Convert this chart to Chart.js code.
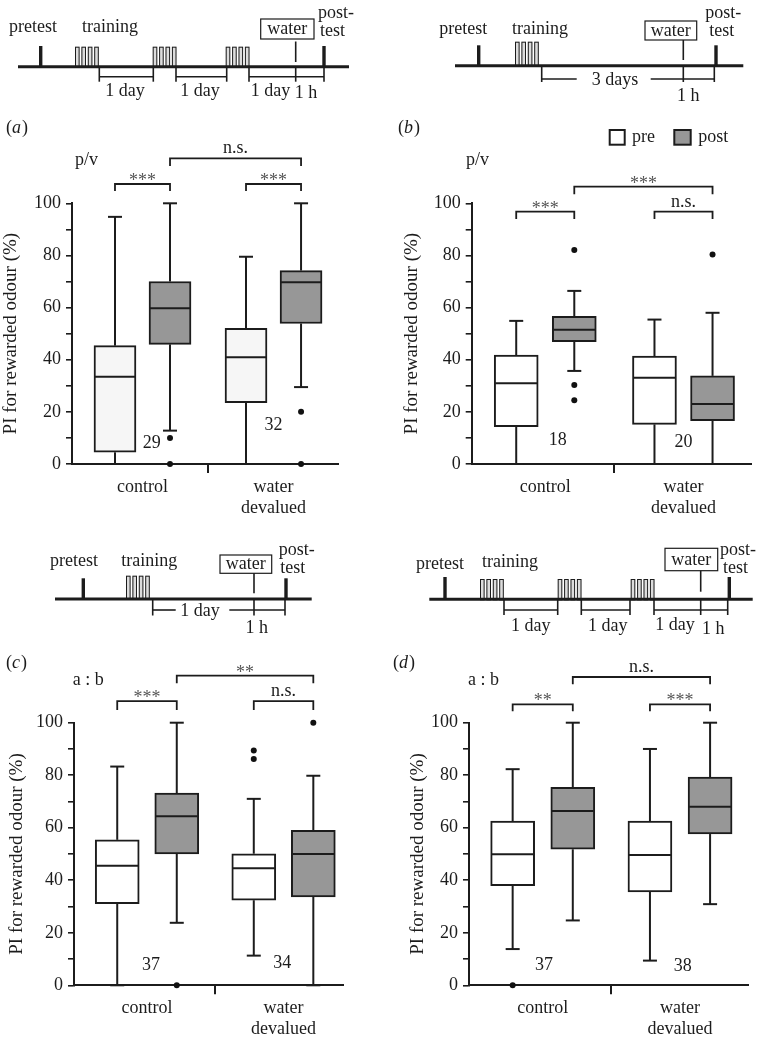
<!DOCTYPE html>
<html>
<head>
<meta charset="utf-8">
<script src="https://cdn.jsdelivr.net/npm/chart.js@4.4.1/dist/chart.umd.min.js"></script>
<style>
  body { margin: 0; background: #fff; }
  #wrap { position: relative; width: 761px; height: 1039px; }
  canvas { position: absolute; }
</style>
</head>
<body>
<div id="wrap">
  <canvas id="bg" width="761" height="1039" style="left:0;top:0"></canvas>
  <canvas id="chartA" width="380" height="420" style="left:0;top:110px"></canvas>
  <canvas id="chartB" width="381" height="420" style="left:380px;top:110px"></canvas>
  <canvas id="chartC" width="380" height="409" style="left:0;top:630px"></canvas>
  <canvas id="chartD" width="381" height="409" style="left:380px;top:630px"></canvas>
</div>
<script>
// ---- data ----
// box stats per group: [low whisker, q1, median, q3, high whisker]
const groupLabels = ['control', ['water', 'devalued']];
const yTickLabels = [0, 20, 40, 60, 80, 100];

const aPre = [[0, 4.5, 33.5, 45.4, 94.8], [0, 23.5, 40.9, 52.0, 79.5]];
const aPost = [[12.8, 45.9, 59.7, 70.0, 100], [29.5, 53.9, 69.7, 74.2, 100]];
const aPreOut = [[], []];
const aPostOut = [[10, 0], [20, 0]];
const aN = [29, 32];
const aSig = ['***', '***', 'n.s.'];

const bPre = [[0, 14.3, 31.0, 41.8, 54.9], [0, 15.2, 33.1, 41.4, 55.4]];
const bPost = [[35.7, 46.9, 51.5, 56.6, 66.4], [0, 16.6, 23.0, 33.8, 58.0]];
const bPreOut = [[], []];
const bPostOut = [[82.1, 30.3, 24.5], [80.4]];
const bN = [18, 20];
const bSig = ['***', 'n.s.', '***'];

const cPre = [[0, 31.1, 45.5, 55.4, 83.3], [11.3, 32.4, 44.6, 50.1, 71.0]];
const cPost = [[23.8, 50.0, 64.4, 73.2, 100], [0, 33.7, 50.0, 59.0, 79.8]];
const cPreOut = [[], [89.4, 86.2]];
const cPostOut = [[0], [100]];
const cN = [37, 34];
const cSig = ['***', 'n.s.', '**'];

const dPre = [[13.8, 37.9, 49.9, 62.5, 82.3], [9.4, 35.6, 49.6, 62.5, 90.0]];
const dPost = [[24.7, 51.8, 66.4, 75.4, 100], [30.9, 57.6, 68.0, 79.3, 100]];
const dPreOut = [[0], []];
const dPostOut = [[], []];
const dN = [37, 38];
const dSig = ['**', '***', 'n.s.'];

// ---- layout ----
const FONT = '"Liberation Serif", "DejaVu Serif", serif';
const INK = '#1c1c1c';
const POST_FILL = '#979797';

const layouts = {
  chartA: { w: 380, h: 420, area: [72, 93.3, 338, 354], xMin: 0.462, xMax: 2.492, off: 0.21, barW: 42,
            titlePad: 0, preFill: '#f6f6f6', nPos: [[0.07, 8], [0.0, 15]], within: [107.4, 104.7], between: [117.2, 114.3] },
  chartB: { w: 381, h: 420, area: [91.7, 93.3, 370.7, 354], xMin: 0.468, xMax: 2.486, off: 0.21, barW: 44,
            titlePad: 21, preFill: '#ffffff', nPos: [[0.09, 9], [0.0, 8.5]], within: [96.8, 94.0], between: [106.4, 103.5] },
  chartC: { w: 380, h: 409, area: [74, 92.7, 343.3, 355.3], xMin: 0.4654, xMax: 2.4376, off: 0.218, barW: 44,
            titlePad: 6, preFill: '#ffffff', nPos: [[0.03, 7.7], [-0.01, 8.4]], within: [108.2, 104.8], between: [117.9, 115.0] },
  chartD: { w: 381, h: 409, area: [89, 92.7, 367.7, 355.3], xMin: 0.463, xMax: 2.493, off: 0.219, barW: 44,
            titlePad: 27, preFill: '#ffffff', nPos: [[0.01, 7.7], [0.02, 7.3]], within: [107.0, 104.4], between: [117.4, 114.6] }
};

function seg(ctx, x1, y1, x2, y2) {
  ctx.beginPath(); ctx.moveTo(x1, y1); ctx.lineTo(x2, y2); ctx.stroke();
}

// whiskers, medians, n labels and significance brackets
const boxExtras = {
  id: 'boxExtras',
  beforeDatasetsDraw(chart, args, opts) {
    const { ctx, scales: { x, y } } = chart;
    ctx.save();
    ctx.strokeStyle = INK;
    ctx.lineWidth = 2;
    opts.series.forEach(s => {
      s.stats.forEach((st, g) => {
        const cx = x.getPixelForValue(g + 1 + s.shift);
        const lo = y.getPixelForValue(st[0]), q1 = y.getPixelForValue(st[1]);
        const q3 = y.getPixelForValue(st[3]), hi = y.getPixelForValue(st[4]);
        seg(ctx, cx, q1, cx, lo);
        seg(ctx, cx, q3, cx, hi);
        seg(ctx, cx - 7, lo, cx + 7, lo);
        seg(ctx, cx - 7, hi, cx + 7, hi);
      });
    });
    ctx.restore();
  },
  afterDatasetsDraw(chart, args, opts) {
    const { ctx, scales: { x, y } } = chart;
    ctx.save();
    ctx.strokeStyle = INK;
    ctx.lineWidth = 2;
    const half = opts.barW / 2;
    opts.series.forEach(s => {
      s.stats.forEach((st, g) => {
        const cx = x.getPixelForValue(g + 1 + s.shift);
        const med = y.getPixelForValue(st[2]);
        seg(ctx, cx - half + 1, med, cx + half - 1, med);
      });
    });
    ctx.restore();
  },
  afterDraw(chart, args, opts) {
    const { ctx, scales: { x, y } } = chart;
    ctx.save();
    ctx.fillStyle = INK;
    ctx.font = '18px ' + FONT;
    ctx.textAlign = 'center';
    ctx.textBaseline = 'middle';
    opts.n.forEach((n, g) => {
      ctx.fillText(String(n), x.getPixelForValue(g + 1 + opts.nPos[g][0]), y.getPixelForValue(opts.nPos[g][1]));
    });

    const off = opts.off;
    const bracket = (xa, xb, lv, text) => {
      const p1 = x.getPixelForValue(xa), p2 = x.getPixelForValue(xb);
      const pt = y.getPixelForValue(lv[0]), pd = y.getPixelForValue(lv[1]);
      ctx.strokeStyle = INK;
      ctx.lineWidth = 1.8;
      ctx.beginPath();
      ctx.moveTo(p1, pd); ctx.lineTo(p1, pt); ctx.lineTo(p2, pt); ctx.lineTo(p2, pd);
      ctx.stroke();
      ctx.textBaseline = 'alphabetic';
      if (text.includes('*')) {
        ctx.fillStyle = '#555';
        ctx.fillText(text, (p1 + p2) / 2, pt + 2);
      } else {
        ctx.fillStyle = INK;
        ctx.fillText(text, (p1 + p2) / 2, pt - 5);
      }
    };
    bracket(1 - off, 1 + off, opts.within, opts.sig[0]);
    bracket(2 - off, 2 + off, opts.within, opts.sig[1]);
    bracket(1 + off, 2 + off, opts.between, opts.sig[2]);
    ctx.restore();
  }
};

function buildPanel(id, pre, post, preOut, postOut, nVals, sig) {
  const L = layouts[id];
  const bars = (stats, shift) => stats.map((s, g) => ({ x: g + 1 + shift, y: [s[1], s[3]] }));
  const pts = (outs, shift) => outs.flatMap((arr, g) => arr.map(v => ({ x: g + 1 + shift, y: v })));

  const barStyle = { type: 'bar', grouped: false, barThickness: L.barW, borderWidth: 2,
                     borderColor: INK, borderSkipped: false };
  new Chart(document.getElementById(id), {
    type: 'bar',
    data: {
      datasets: [
        { type: 'scatter', label: 'outliers', data: pts(preOut, -L.off).concat(pts(postOut, L.off)),
          pointRadius: 3, pointBackgroundColor: '#111', pointBorderWidth: 0, clip: false },
        Object.assign({ label: 'pre', data: bars(pre, -L.off), backgroundColor: L.preFill }, barStyle),
        Object.assign({ label: 'post', data: bars(post, L.off), backgroundColor: POST_FILL }, barStyle)
      ]
    },
    options: {
      responsive: false,
      devicePixelRatio: 1,
      animation: false,
      layout: {
        padding: { left: 0, top: L.area[1], right: L.w - L.area[2], bottom: L.h - L.area[3] - 50 }
      },
      plugins: {
        legend: { display: false },
        tooltip: { enabled: false },
        boxExtras: {
          series: [{ stats: pre, shift: -L.off }, { stats: post, shift: L.off }],
          barW: L.barW, off: L.off, n: nVals, nPos: L.nPos, sig: sig,
          within: L.within, between: L.between
        }
      },
      scales: {
        x: {
          type: 'linear',
          min: L.xMin,
          max: L.xMax,
          offset: false,
          afterFit: s => { s.height = 50; },
          afterBuildTicks: s => { s.ticks = [{ value: 1 }, { value: 1.5 }, { value: 2 }]; },
          ticks: {
            autoSkip: false, maxRotation: 0, padding: 3, color: INK,
            font: { family: FONT, size: 18 },
            callback: v => (v === 1 ? groupLabels[0] : v === 2 ? groupLabels[1] : '')
          },
          grid: {
            offset: false, drawOnChartArea: false, drawTicks: true, tickLength: 9, lineWidth: 2,
            color: c => (c.tick && c.tick.value === 1.5 ? INK : 'rgba(0,0,0,0)')
          },
          border: { display: true, color: INK, width: 2 }
        },
        y: {
          min: 0,
          max: 100,
          afterFit: s => { s.width = L.area[0]; },
          ticks: {
            stepSize: 10, padding: 5, color: INK,
            font: { family: FONT, size: 18 },
            callback: v => (yTickLabels.includes(v) ? v : '')
          },
          grid: { drawOnChartArea: false, drawTicks: true, tickLength: 6, lineWidth: 1.6, color: INK },
          border: { display: true, color: INK, width: 2 },
          title: {
            display: true, text: 'PI for rewarded odour (%)', color: INK,
            font: { family: FONT, size: 19 }, padding: { top: L.titlePad, bottom: 0 }
          }
        }
      }
    },
    plugins: [boxExtras]
  });
}

buildPanel('chartA', aPre, aPost, aPreOut, aPostOut, aN, aSig);
buildPanel('chartB', bPre, bPost, bPreOut, bPostOut, bN, bSig);
buildPanel('chartC', cPre, cPost, cPreOut, cPostOut, cN, cSig);
buildPanel('chartD', dPre, dPost, dPreOut, dPostOut, dN, dSig);

// ---- protocol timelines and panel labels (schematic, drawn on a background canvas) ----
const timelines = [
  { y: 66.7, x0: 18, x1: 349, pre: 40.7, post: 324, markTop: 46, pulses: [75, 152.7, 225.7], pulseTop: 46.7,
    brY: 76.7, brBottom: 81.7, segs: [[99.3, 153.3], [176, 226.7], [249, 324]],
    ticks: [99.3, 153.3, 176, 226.7, 249, 295.7, 324],
    water: [260.7, 19, 314, 39], stem: [295.7, 41.5, 62],
    texts: [['pretest', 33, 27], ['training', 110, 27], ['post-', 336, 13.3], ['test', 332.5, 31.7],
            ['1 day', 125, 91.7], ['1 day', 200, 91.7], ['1 day', 270.5, 91.7], ['1 h', 306, 93]] },
  { y: 65.7, x0: 455, x1: 743.3, pre: 478.7, post: 716, markTop: 45.3, pulses: [515], pulseTop: 41.7,
    brY: 79, brBottom: 82, segs: [[541.7, 576.7], [650.7, 714.3]],
    ticks: [541.7, 683.3, 714.3],
    water: [645, 21, 696.7, 40], stem: [683.3, 40, 60],
    texts: [['pretest', 463.3, 29], ['training', 540, 29], ['post-', 723.3, 13.3], ['test', 721.7, 31.7],
            ['3 days', 615, 80], ['1 h', 688.3, 96.7]] },
  { y: 599, x0: 55, x1: 311.7, pre: 83.3, post: 286, markTop: 578.3, pulses: [126], pulseTop: 575.7,
    brY: 610, brBottom: 615.5, segs: [[152.7, 175.7], [229.3, 285]],
    ticks: [152.7, 254, 285],
    water: [220, 555, 271.7, 573.3], stem: [254, 573.3, 593.3],
    texts: [['pretest', 74, 561.7], ['training', 149.3, 561.7], ['post-', 296.7, 550], ['test', 292.7, 568.3],
            ['1 day', 200, 611.7], ['1 h', 256.7, 628.3]] },
  { y: 599.3, x0: 429.3, x1: 752.7, pre: 445, post: 729.3, markTop: 577, pulses: [480, 557.7, 630.7], pulseTop: 579,
    brY: 610, brBottom: 615, segs: [[504, 557.7], [581.3, 630], [654, 727.7]],
    ticks: [504, 557.7, 581.3, 630, 654, 700.7, 727.7],
    water: [665, 548.3, 717.7, 570.7], stem: [700.7, 570.7, 591.7],
    texts: [['pretest', 440, 564.3], ['training', 510, 562.7], ['post-', 738, 550], ['test', 735.5, 568.3],
            ['1 day', 530.7, 626.7], ['1 day', 607.7, 626.7], ['1 day', 675, 625], ['1 h', 713.3, 629.3]] }
];

function drawTimeline(ctx, t) {
  ctx.strokeStyle = INK;
  ctx.fillStyle = INK;
  // training pulses
  ctx.lineWidth = 1;
  t.pulses.forEach(px => {
    for (let k = 0; k < 4; k++) {
      const left = px + k * 6.4;
      ctx.fillStyle = '#dcdcdc';
      ctx.fillRect(left, t.pulseTop, 4.6, t.y - t.pulseTop);
      ctx.strokeRect(left + 0.5, t.pulseTop + 0.5, 3.6, t.y - t.pulseTop);
    }
  });
  // main line
  ctx.lineWidth = 3;
  seg(ctx, t.x0, t.y, t.x1, t.y);
  // pre/post test marks
  ctx.lineWidth = 3.4;
  seg(ctx, t.pre, t.y, t.pre, t.markTop);
  seg(ctx, t.post, t.y, t.post, t.markTop);
  // interval brackets
  ctx.lineWidth = 1.6;
  t.segs.forEach(s => seg(ctx, s[0], t.brY, s[1], t.brY));
  t.ticks.forEach(x => seg(ctx, x, t.y, x, t.brBottom));
  // water box and stem
  const w = t.water;
  ctx.lineWidth = 1.2;
  ctx.strokeRect(w[0], w[1], w[2] - w[0], w[3] - w[1]);
  ctx.lineWidth = 1.6;
  seg(ctx, t.stem[0], t.stem[1], t.stem[0], t.stem[2]);
  // labels
  ctx.fillStyle = INK;
  ctx.font = '18px ' + FONT;
  ctx.textAlign = 'center';
  ctx.textBaseline = 'middle';
  ctx.fillText('water', (w[0] + w[2]) / 2, (w[1] + w[3]) / 2 + 0.5);
  t.texts.forEach(tx => ctx.fillText(tx[0], tx[1], tx[2]));
}

function panelLetter(ctx, letter, x, y) {
  ctx.textAlign = 'left';
  ctx.textBaseline = 'middle';
  ctx.font = '18px ' + FONT;
  ctx.fillText('(', x, y);
  let cx = x + ctx.measureText('(').width;
  ctx.font = 'italic 18px ' + FONT;
  ctx.fillText(letter, cx, y);
  cx += ctx.measureText(letter).width + 1;
  ctx.font = '18px ' + FONT;
  ctx.fillText(')', cx, y);
}

const bg = document.getElementById('bg').getContext('2d');
timelines.forEach(t => drawTimeline(bg, t));
bg.fillStyle = INK;
panelLetter(bg, 'a', 6, 128);
panelLetter(bg, 'b', 398, 128);
panelLetter(bg, 'c', 6, 663.3);
panelLetter(bg, 'd', 393, 663.3);
bg.font = '18px ' + FONT;
bg.textAlign = 'left';
bg.textBaseline = 'middle';
bg.fillText('p/v', 75, 160);
bg.fillText('p/v', 466, 160);
bg.fillText('a : b', 72.7, 680);
bg.fillText('a : b', 468, 680);

// legend (panel b)
bg.strokeStyle = INK;
bg.lineWidth = 2;
bg.fillStyle = '#ffffff';
bg.fillRect(609.7, 130, 15, 14.7);
bg.strokeRect(609.7, 130, 15, 14.7);
bg.fillStyle = POST_FILL;
bg.fillRect(674.3, 130, 16.4, 14.7);
bg.strokeRect(674.3, 130, 16.4, 14.7);
bg.fillStyle = INK;
bg.fillText('pre', 632, 137);
bg.fillText('post', 698.3, 137);
</script>
</body>
</html>
